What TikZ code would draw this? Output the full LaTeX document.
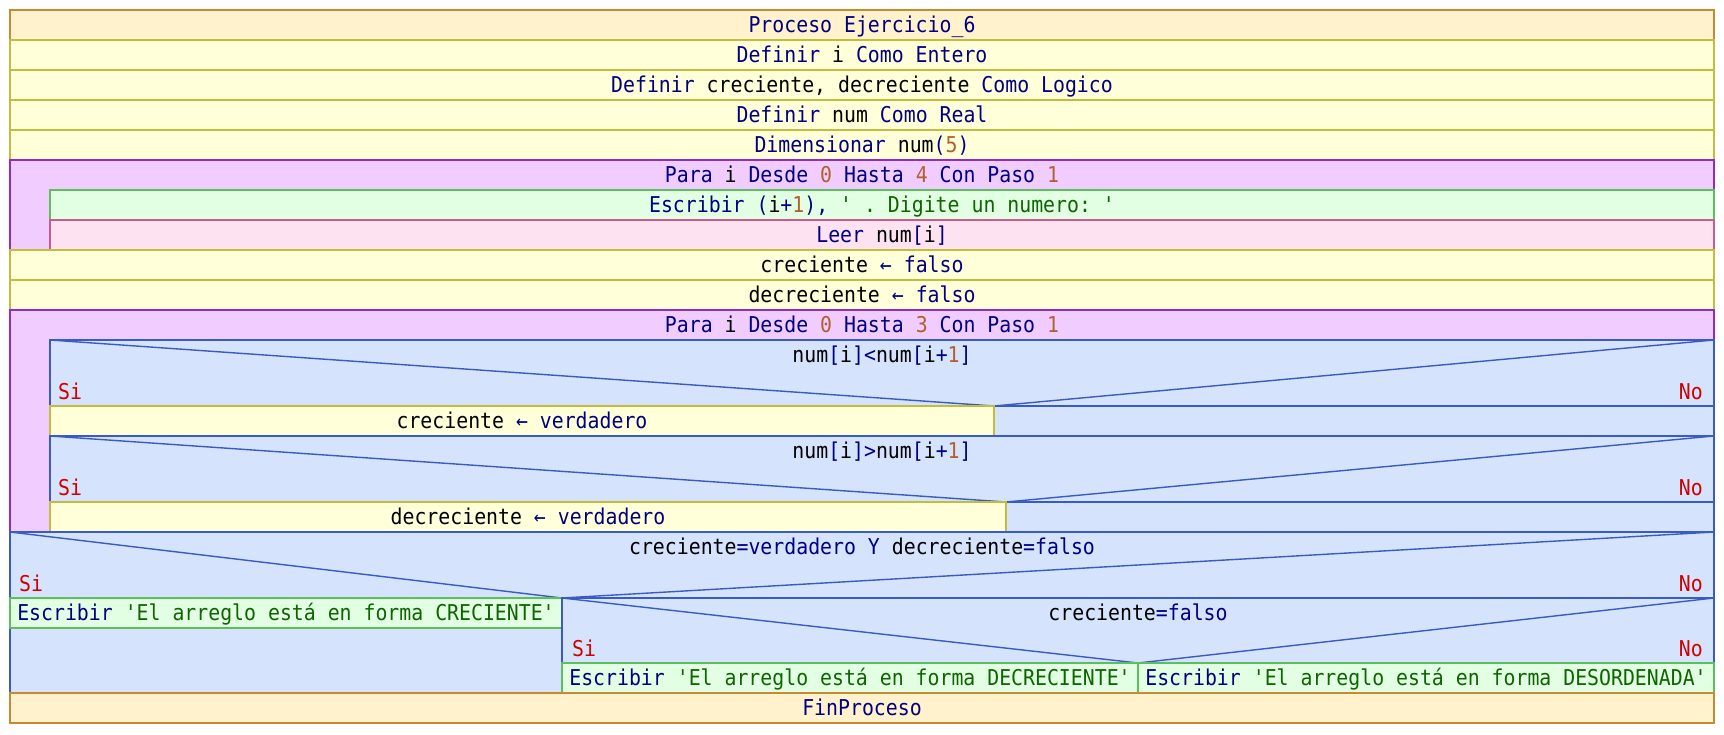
\documentclass[tikz,border=0pt]{standalone}
\usepackage{fontspec}
\setmonofont[FakeStretch=0.91]{DejaVu Sans Mono}
\usepackage{xcolor}
\usepackage{tikz}

\definecolor{procfill}{HTML}{FFF2CC}
\definecolor{procline}{HTML}{C88A2E}
\definecolor{deffill}{HTML}{FFFFD9}
\definecolor{defline}{HTML}{C0BE3C}
\definecolor{loopfill}{HTML}{F1CCFF}
\definecolor{loopline}{HTML}{8E2DC5}
\definecolor{wrfill}{HTML}{E3FFE3}
\definecolor{wrline}{HTML}{5DBE5D}
\definecolor{rdfill}{HTML}{FDE3F1}
\definecolor{rdline}{HTML}{C85C8E}
\definecolor{iffill}{HTML}{D5E3FC}
\definecolor{ifline}{HTML}{3B5BC4}
\definecolor{kwblue}{HTML}{000080}
\definecolor{litbrown}{HTML}{B0602E}
\definecolor{strgreen}{HTML}{0E6400}
\definecolor{sired}{HTML}{D00000}

\newcommand{\kw}[1]{\textcolor{kwblue}{#1}}
\newcommand{\lit}[1]{\textcolor{litbrown}{#1}}
\newcommand{\strg}[1]{\textcolor{strgreen}{#1}}
\newcommand{\asg}{\kw{←}}

\begin{document}
\begin{tikzpicture}[
  x=1pt, y=-1pt,
  every node/.style={font=\ttfamily\fontsize{21.8}{26}\selectfont, inner sep=0pt, anchor=base},
  procbox/.style={fill=procfill, draw=procline, line width=1.4pt},
  defbox/.style={fill=deffill, draw=defline, line width=1.4pt},
  loopbox/.style={fill=loopfill, draw=loopline, line width=1.4pt},
  wrbox/.style={fill=wrfill, draw=wrline, line width=1.4pt},
  rdbox/.style={fill=rdfill, draw=rdline, line width=1.4pt},
  ifbox/.style={fill=iffill, draw=ifline, line width=1.4pt},
  ifedge/.style={draw=ifline, line width=1.4pt},
  yes/.style={text=sired, anchor=base west},
  no/.style={text=sired, anchor=base east}
]
\useasboundingbox (0,0) rectangle (1724,734);

% cabecera y definiciones
\draw[procbox] (10,10) rectangle (1714,40);
\draw[defbox] (10,40) rectangle (1714,70);
\draw[defbox] (10,70) rectangle (1714,100);
\draw[defbox] (10,100) rectangle (1714,130);
\draw[defbox] (10,130) rectangle (1714,160);
\node (proc) at (862,32) {\kw{Proceso Ejercicio\_6}};
\node (defi) at (862,62) {\kw{Definir} i \kw{Como Entero}};
\node (defcd) at (862,92) {\kw{Definir} creciente, decreciente \kw{Como Logico}};
\node (defnum) at (862,122) {\kw{Definir} num \kw{Como Real}};
\node (dim) at (862,152) {\kw{Dimensionar} num\kw{(}\lit{5}\kw{)}};

% primer ciclo
\draw[loopbox] (10,160) rectangle (1714,250);
\draw[wrbox] (50,190) rectangle (1714,220);
\draw[rdbox] (50,220) rectangle (1714,250);
\node (para1) at (862,182) {\kw{Para} i \kw{Desde} \lit{0} \kw{Hasta} \lit{4} \kw{Con Paso} \lit{1}};
\node (esc1) at (882,212) {\kw{Escribir (}i\kw{+}\lit{1}\kw{),} \strg{' . Digite un numero: '}};
\node (leer) at (882,242) {\kw{Leer} num\kw{[}i\kw{]}};

\draw[defbox] (10,250) rectangle (1714,280);
\draw[defbox] (10,280) rectangle (1714,310);
\node (crf) at (862,272) {creciente \asg{} \kw{falso}};
\node (dcrf) at (862,302) {decreciente \asg{} \kw{falso}};

% segundo ciclo
\draw[loopbox] (10,310) rectangle (1714,532);
\node (para2) at (862,332) {\kw{Para} i \kw{Desde} \lit{0} \kw{Hasta} \lit{3} \kw{Con Paso} \lit{1}};

\coordinate (v1) at (994,406);
\draw[ifbox] (50,340) rectangle (1714,436);
\draw[ifedge] (50,340) -- (v1) -- (1714,340);
\draw[ifedge] (50,406) -- (1714,406);
\draw[defbox] (50,406) rectangle (v1 |- 0,436);
\node (cond1) at (882,362) {num\kw{[}i\kw{]<}num\kw{[}i\kw{+}\lit{1}\kw{]}};
\node[yes] (si1) at (58,399) {Si};
\node[no] (no1) at (1703,399) {No};
\node (crv) at (522,428) {creciente \asg{} \kw{verdadero}};

\coordinate (v2) at (1006,502);
\draw[ifbox] (50,436) rectangle (1714,532);
\draw[ifedge] (50,436) -- (v2) -- (1714,436);
\draw[ifedge] (50,502) -- (1714,502);
\draw[defbox] (50,502) rectangle (v2 |- 0,532);
\node (cond2) at (882,458) {num\kw{[}i\kw{]>}num\kw{[}i\kw{+}\lit{1}\kw{]}};
\node[yes] (si2) at (58,495) {Si};
\node[no] (no2) at (1703,495) {No};
\node (dcrv) at (528,524) {decreciente \asg{} \kw{verdadero}};

% decision final
\coordinate (v3) at (562,598);
\draw[ifbox] (10,532) rectangle (1714,693);
\draw[ifedge] (10,532) -- (v3) -- (1714,532);
\draw[ifedge] (10,598) -- (1714,598);
\draw[wrbox] (10,598) rectangle (562,628);
\node (cond3) at (862,554) {creciente\kw{=verdadero Y} decreciente\kw{=falso}};
\node[yes] (si3) at (19,591) {Si};
\node[no] (no3) at (1703,591) {No};
\node (escC) at (286,620) {\kw{Escribir} \strg{'El arreglo está en forma CRECIENTE'}};

\coordinate (v4) at (1138,663);
\draw[ifbox] (562,598) rectangle (1714,693);
\draw[ifedge] (562,598) -- (v4) -- (1714,598);
\draw[wrbox] (562,663) rectangle (1138,693);
\draw[wrbox] (1138,663) rectangle (1714,693);
\node (cond4) at (1138,620) {creciente\kw{=falso}};
\node[yes] (si4) at (572,656) {Si};
\node[no] (no4) at (1703,656) {No};
\node (escD) at (850,685) {\kw{Escribir} \strg{'El arreglo está en forma DECRECIENTE'}};
\node (escO) at (1426,685) {\kw{Escribir} \strg{'El arreglo está en forma DESORDENADA'}};

\draw[procbox] (10,693) rectangle (1714,723);
\node (fin) at (862,715) {\kw{FinProceso}};
\end{tikzpicture}
\end{document}
